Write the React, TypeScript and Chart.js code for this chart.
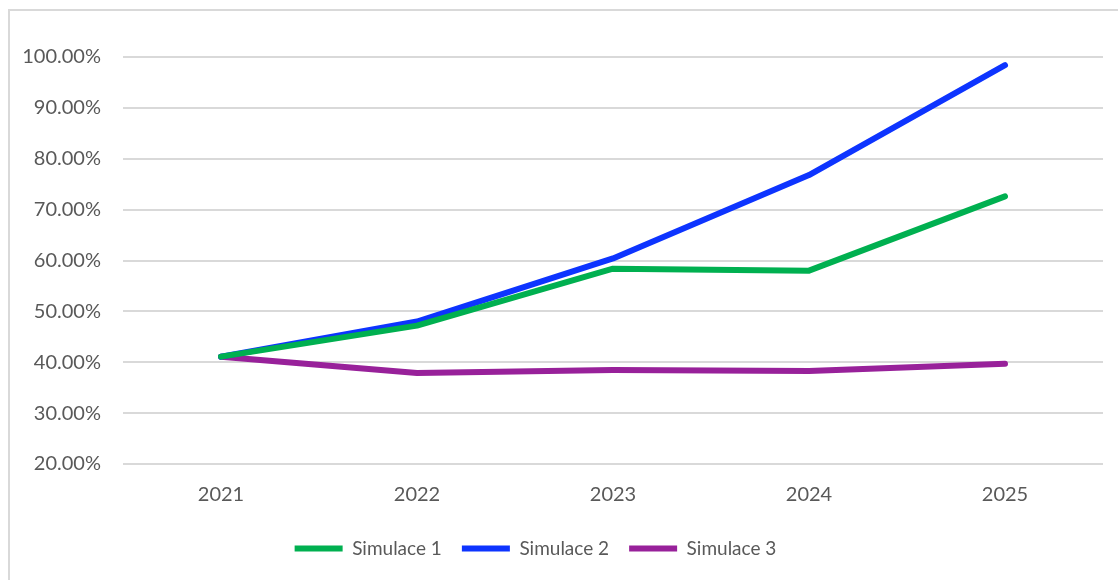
import React, { useEffect, useRef } from "react";
import { Chart, registerables } from "chart.js";

Chart.register(...registerables);

const years = ["2021", "2022", "2023", "2024", "2025"];
const simulace1 = [41.1, 47.2, 58.4, 58.0, 72.6];
const simulace2 = [41.1, 48.0, 60.4, 76.8, 98.4];
const simulace3 = [41.1, 37.9, 38.5, 38.3, 39.7];
const seriesNames = ["Simulace 1", "Simulace 2", "Simulace 3"];
const seriesColors = ["#00B050", "#0D34FF", "#98219A"];

const FONT = "Lato, 'Open Sans', sans-serif";
const TEXT = "#595959";
const GRID = "#D9D9D9";

const framePlugin = {
  id: "frame",
  afterLayout(chart: any) {
    if (chart.legend) {
      chart.legend.right -= 32;
    }
  },
  beforeDraw(chart: any) {
    const ctx = chart.ctx;
    ctx.save();
    ctx.strokeStyle = GRID;
    ctx.lineWidth = 2;
    ctx.beginPath();
    ctx.moveTo(9, chart.height + 5);
    ctx.lineTo(9, 10);
    ctx.lineTo(chart.width + 5, 10);
    ctx.stroke();
    ctx.restore();
  },
};

export default function App() {
  const ref = useRef<HTMLCanvasElement | null>(null);
  useEffect(() => {
    document.body.style.margin = "0";
    const data = [simulace1, simulace2, simulace3];
    const chart = new Chart(ref.current!, {
      type: "line",
      data: {
        labels: years,
        datasets: data.map((d, i) => ({
          label: seriesNames[i],
          data: d,
          borderColor: seriesColors[i],
          backgroundColor: seriesColors[i],
          borderWidth: 6,
          borderCapStyle: "round",
          borderJoinStyle: "round",
          pointRadius: 0,
          tension: 0,
        })),
      },
      options: {
        animation: false,
        responsive: false,
        layout: { padding: { top: 57, right: 15, left: 0, bottom: 12 } },
        plugins: {
          tooltip: { enabled: false },
          legend: {
            position: "bottom",
            labels: {
              font: { family: FONT, size: 19 },
              color: TEXT,
              boxWidth: 48,
              boxHeight: 6,
              padding: 20,
              useBorderRadius: true,
              borderRadius: 3,
              generateLabels: (c: any) =>
                c.data.datasets.map((ds: any, i: number) => ({
                  text: ds.label,
                  fillStyle: ds.borderColor,
                  strokeStyle: ds.borderColor,
                  lineWidth: 0,
                  fontColor: TEXT,
                  datasetIndex: i,
                  hidden: false,
                })),
            },
          },
        },
        scales: {
          x: {
            offset: true,
            grid: { display: false },
            border: { display: false },
            ticks: {
              font: { family: FONT, size: 20 },
              color: TEXT,
              padding: 11,
            },
            afterFit: (s: any) => {
              s.height = 55;
            },
          },
          y: {
            min: 20,
            max: 100,
            grid: { color: GRID, lineWidth: 2, drawTicks: false },
            border: { display: false },
            ticks: {
              stepSize: 10,
              font: { family: FONT, size: 20 },
              color: TEXT,
              padding: 22,
              callback: (v: any) => Number(v).toFixed(2) + "%",
            },
            afterFit: (s: any) => {
              s.width = 123;
            },
          },
        },
      },
      plugins: [framePlugin],
    } as any);
    return () => chart.destroy();
  }, []);
  return <canvas ref={ref} width={1118} height={580} style={{ display: "block" }} />;
}
